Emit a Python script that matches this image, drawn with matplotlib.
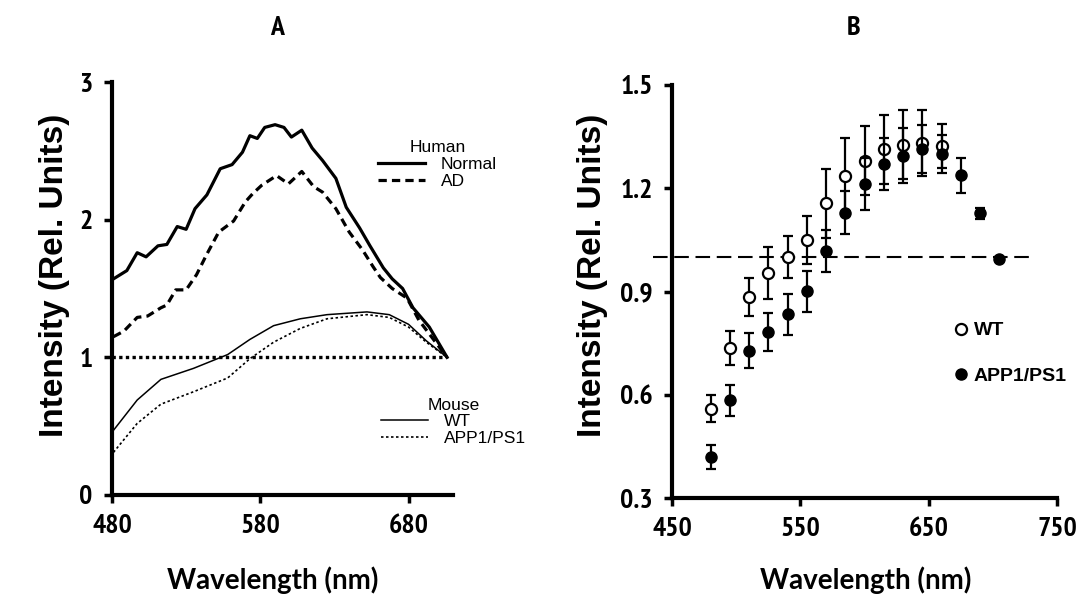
import matplotlib
matplotlib.use('Agg')
import matplotlib.pyplot as plt
from matplotlib import font_manager as fm
from matplotlib.font_manager import FontProperties

# --- Panel A: spectra (Human / Mouse) ---
normal_nm = [481, 490, 497, 503, 511, 517, 524, 530, 536, 544, 553, 561, 568, 573, 578,
             583, 590, 596, 601, 608, 615, 622, 631, 638, 647, 654, 663, 669, 676, 683, 694, 706]
normal_val = [1.57, 1.63, 1.76, 1.73, 1.81, 1.82, 1.95, 1.93, 2.08, 2.18, 2.37, 2.40, 2.49, 2.61, 2.59,
              2.67, 2.69, 2.67, 2.60, 2.65, 2.52, 2.43, 2.30, 2.09, 1.94, 1.81, 1.65, 1.57, 1.50, 1.36, 1.22, 1.00]

ad_nm = [481, 488, 497, 504, 513, 517, 523, 530, 537, 544, 552, 562, 570, 575, 581,
         591, 599, 608, 616, 622, 631, 640, 649, 656, 661, 669, 679, 687, 694, 706]
ad_val = [1.15, 1.19, 1.29, 1.30, 1.36, 1.38, 1.49, 1.49, 1.60, 1.75, 1.91, 1.99, 2.13, 2.19, 2.25,
          2.32, 2.26, 2.35, 2.24, 2.20, 2.08, 1.91, 1.78, 1.66, 1.58, 1.50, 1.43, 1.27, 1.17, 1.00]

mouse_nm = [481, 497, 513, 535, 558, 573, 589, 607, 625, 652, 667, 680, 692, 706]
mouse_wt = [0.47, 0.69, 0.84, 0.92, 1.02, 1.13, 1.23, 1.28, 1.31, 1.33, 1.31, 1.24, 1.12, 1.00]
mouse_app = [0.31, 0.52, 0.66, 0.75, 0.85, 0.99, 1.11, 1.21, 1.28, 1.31, 1.29, 1.22, 1.11, 1.00]

# --- Panel B: mean +/- error ---
wt_nm = [480, 495, 510, 525, 540, 555, 570, 585, 600, 615, 630, 645, 660]
wt_mean = [0.56, 0.735, 0.885, 0.953, 1.00, 1.05, 1.156, 1.235, 1.28, 1.313, 1.326, 1.332, 1.323]
wt_err = [0.04, 0.05, 0.055, 0.075, 0.06, 0.07, 0.10, 0.11, 0.10, 0.10, 0.10, 0.095, 0.065]

app_nm = [480, 495, 510, 525, 540, 555, 570, 585, 600, 615, 630, 645, 660, 675, 690, 705]
app_mean = [0.418, 0.584, 0.728, 0.783, 0.834, 0.901, 1.018, 1.129, 1.212, 1.27, 1.294, 1.313,
            1.30, 1.2375, 1.127, 0.994]
app_err = [0.035, 0.045, 0.05, 0.055, 0.06, 0.06, 0.06, 0.062, 0.075, 0.075, 0.08, 0.07,
           0.055, 0.05, 0.015, 0.005]

# look for a condensed bold face for tick labels (Arial Narrow look)
names = {f.name for f in fm.fontManager.ttflist}
cond = None
for key in ['Narrow', 'Roboto Condensed', 'DejaVu', 'Condensed']:
    for f in fm.fontManager.ttflist:
        fn = f.fname.replace('-', '').replace('_', '')
        is_cond = ('Narrow' in f.name or 'Condensed' in f.name or 'condensed' in str(f.stretch)
                   or 'Condensed' in fn or 'Narrow' in fn)
        is_bold = (isinstance(f.weight, int) and f.weight >= 600) or 'bold' in str(f.weight).lower() \
            or 'Bold' in fn
        if is_cond and is_bold and 'Oblique' not in fn and 'Italic' not in fn \
                and (key in f.name or key in fn):
            cond = f.fname
            break
    if cond:
        break

if cond:
    def tickfp(size=20):
        return FontProperties(fname=cond, size=size)
else:
    def tickfp(size=20):
        return FontProperties(family='Liberation Sans', weight='bold', size=size - 2)

arial = 'Liberation Sans'
xlab_font = 'Lato' if 'Lato' in names else 'DejaVu Sans'

W, H = 1079, 606
fig = plt.figure(figsize=(W / 100, H / 100), dpi=100)
axA = fig.add_axes([112 / W, 1 - 495 / H, 341 / W, 413 / H])
axB = fig.add_axes([672 / W, 1 - 498 / H, 385 / W, 413 / H])


def style_axis(ax):
    for s in ['top', 'right']:
        ax.spines[s].set_visible(False)
    for s in ['left', 'bottom']:
        ax.spines[s].set_linewidth(3)
    ax.tick_params(direction='out', length=6, width=2.5, pad=8)
    for lab in ax.get_xticklabels() + ax.get_yticklabels():
        lab.set_fontproperties(tickfp())


# ---------- A ----------
axA.hlines(1, 480, 704, colors='black', linewidth=2.4, linestyles=(0, (1, 1)))
l1, = axA.plot(normal_nm, normal_val, color='black', lw=2.3, label='Normal')
l2, = axA.plot(ad_nm, ad_val, color='black', lw=2.3, ls=(0, (2.6, 1.6)), label='AD')
l3, = axA.plot(mouse_nm, mouse_wt, color='black', lw=1.1, label='WT')
l4, = axA.plot(mouse_nm, mouse_app, color='black', lw=1.2, ls=(0, (1.5, 1.5)), label='APP1/PS1')
axA.set_xlim(480, 710)
axA.set_ylim(0, 3)
axA.set_xticks([480, 580, 680])
axA.set_yticks([0, 1, 2, 3])
style_axis(axA)

leg_kw = dict(frameon=False, loc='upper left', borderpad=0, handlelength=2.7,
              handletextpad=0.9, labelspacing=0.1, prop={'family': arial, 'size': 12.5},
              title_fontproperties={'family': arial, 'size': 12.5})
legH = axA.legend([l1, l2], ['Normal', 'AD'], title='Human',
                  bbox_to_anchor=(0.755, 0.88), **leg_kw)
axA.add_artist(legH)
axA.legend([l3, l4], ['WT', 'APP1/PS1'], title='Mouse',
           bbox_to_anchor=(0.764, 0.257), **leg_kw)

# ---------- B ----------
axB.plot([435, 732], [1, 1], color='black', lw=1.5, ls=(0, (7, 3.2)), clip_on=False)
axB.errorbar(wt_nm, wt_mean, yerr=wt_err, fmt='o', color='black', mfc='white', mec='black',
             mew=1.6, ms=8, elinewidth=1.6, capsize=3.5, capthick=1.6, label='WT', zorder=3)
axB.errorbar(app_nm, app_mean, yerr=app_err, fmt='o', color='black', mfc='black', mec='black',
             ms=8, elinewidth=1.6, capsize=3.5, capthick=1.6, label='APP1/PS1', zorder=4)
axB.set_xlim(450, 750)
axB.set_ylim(0.3, 1.5)
axB.set_xticks([450, 550, 650, 750])
axB.set_yticks([0.3, 0.6, 0.9, 1.2, 1.5])
axB.set_yticklabels(['0.3', '0.6', '0.9', '1.2', '1.5'])
style_axis(axB)

hB, lB = axB.get_legend_handles_labels()
axB.legend([h[0] for h in hB], lB, frameon=False, loc='upper left', bbox_to_anchor=(0.71, 0.45),
           borderpad=0, handlelength=0.6, handletextpad=0.35, labelspacing=1.45,
           prop={'family': arial, 'weight': 'bold', 'size': 14})

# y labels, titles and x labels
for xc in [55, 592]:
    fig.text(xc / W, 1 - 275 / H, 'Intensity (Rel. Units)', rotation=90, ha='center', va='center',
             family=arial, weight='bold', size=24)
for xc, t in [(277, 'A'), (854, 'B')]:
    fig.text(xc / W, 1 - 28 / H, t, ha='center', va='center', fontproperties=tickfp())
for xc in [273, 866]:
    fig.text(xc / W, 1 - 580 / H, 'Wavelength (nm)', ha='center', va='center',
             family=xlab_font, weight='bold', size=20)

fig.savefig('out.png', dpi=100)
